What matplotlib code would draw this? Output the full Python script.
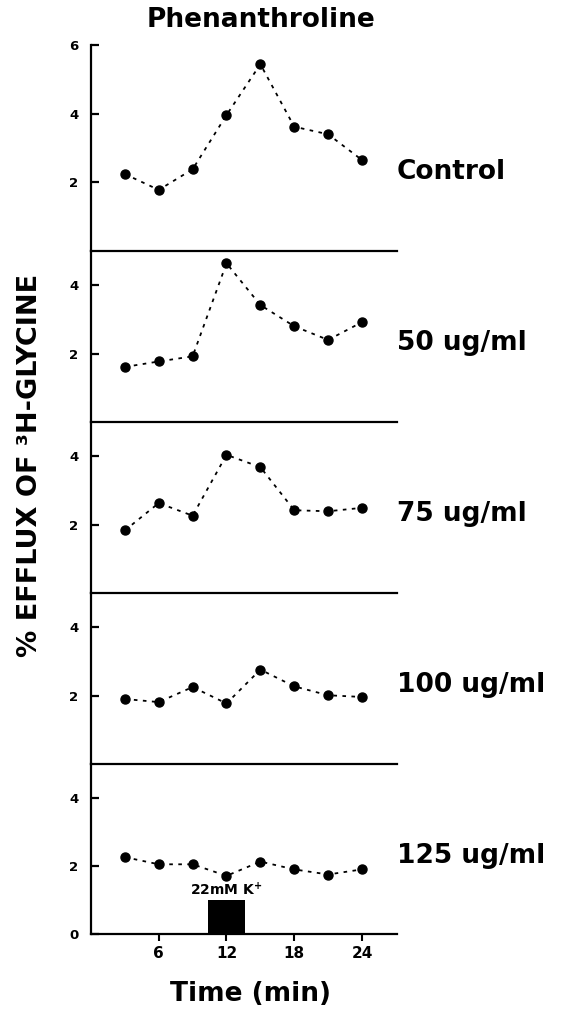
import matplotlib.pyplot as plt
import numpy as np

# time points (min)
time = [3, 6, 9, 12, 15, 18, 21, 24]

# % efflux of 3H-glycine per condition
control = [2.24, 1.78, 2.38, 3.96, 5.44, 3.62, 3.40, 2.65]
dose_50 = [1.61, 1.77, 1.92, 4.64, 3.42, 2.80, 2.40, 2.92]
dose_75 = [1.83, 2.63, 2.26, 4.04, 3.68, 2.42, 2.39, 2.49]
dose_100 = [1.90, 1.81, 2.25, 1.77, 2.76, 2.27, 2.01, 1.96]
dose_125 = [2.26, 2.05, 2.05, 1.71, 2.13, 1.90, 1.75, 1.90]

series = [control, dose_50, dose_75, dose_100, dose_125]
labels = ['Control', '50 ug/ml', '75 ug/ml', '100 ug/ml', '125 ug/ml']

# 22 mM K+ pulse
pulse_start, pulse_end, pulse_level = 10.4, 13.6, 1.0

plt.rcParams.update({'font.family': 'DejaVu Sans', 'font.weight': 'bold'})

W, H = 565, 1010
fig = plt.figure(figsize=(W / 100, H / 100), dpi=100)

x0, x1 = 91, 397
bottoms = [251, 422, 593, 764, 934]
tops = [45, 251, 422, 593, 764]
ymaxs = [6, 5, 5, 5, 5]
yticks = [[2, 4, 6], [2, 4], [2, 4], [2, 4], [0, 2, 4]]

axes = []
for i in range(5):
    ax = fig.add_axes([x0 / W, (H - bottoms[i]) / H, (x1 - x0) / W,
                       (bottoms[i] - tops[i]) / H])
    ax.set_xlim(0, 27.1)
    ax.set_ylim(0, ymaxs[i])
    ax.patch.set_alpha(0)
    for s in ['top', 'right']:
        ax.spines[s].set_visible(False)
    for s in ['left', 'bottom']:
        ax.spines[s].set_linewidth(1.6)

    ax.plot(time, series[i], color='black', linestyle=(0, (2, 3)), linewidth=1.3,
            marker='o', markersize=6.5, zorder=3, clip_on=False)

    ax.set_yticks(yticks[i])
    ax.tick_params(axis='y', direction='in', length=6, width=1.6, pad=9,
                   labelsize=9.5)
    ax.text(27.1, 2.3, labels[i], fontsize=19, fontweight='bold',
            ha='left', va='center', clip_on=False)
    if i < 4:
        ax.set_xticks([])
    axes.append(ax)

ax = axes[-1]
ax.set_xticks([6, 12, 18, 24])
ax.tick_params(axis='x', direction='out', length=5, width=1.5, pad=4,
               labelsize=11)
ax.bar((pulse_start + pulse_end) / 2, pulse_level, width=pulse_end - pulse_start,
       color='black', zorder=2)
ax.text((pulse_start + pulse_end) / 2, pulse_level + 0.05, '22mM K$^{+}$',
        fontsize=10, fontweight='bold', ha='center', va='bottom')

fig.text(250 / W, 1 - 994 / H, 'Time (min)', fontsize=19, fontweight='bold',
         ha='center', va='center')
fig.text(261 / W, 1 - 20 / H, 'Phenanthroline', fontsize=19, fontweight='bold',
         ha='center', va='center')
fig.text(30 / W, 1 - 465 / H, '% EFFLUX OF ³H-GLYCINE', fontsize=19.5,
         fontweight='bold', rotation=90, ha='center', va='center')

plt.savefig('out.png', dpi=100)
